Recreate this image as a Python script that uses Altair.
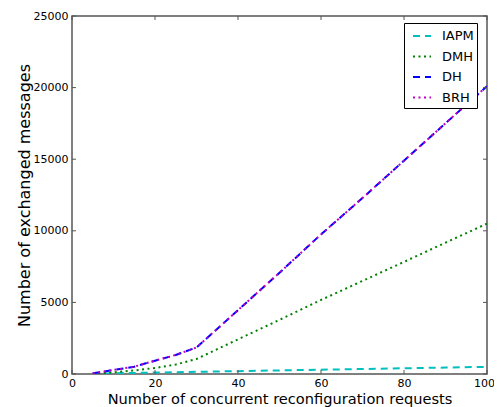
import altair as alt
import pandas as pd

series_names = ["IAPM", "DMH", "DH", "BRH"]
x_requests = [5, 10, 15, 20, 25, 30, 40, 50, 60, 70, 80, 90, 100]
iapm = [25, 50, 75, 100, 125, 150, 200, 250, 300, 350, 400, 450, 500]
dmh = [15, 110, 250, 420, 660, 1050, 2420, 3780, 5170, 6500, 7830, 9170, 10500]
dh = [50, 280, 510, 930, 1330, 1850, 4460, 7070, 9750, 12290, 14900, 17510, 20100]
brh = [50, 280, 510, 930, 1330, 1850, 4460, 7070, 9750, 12290, 14900, 17510, 20100]
colors = ["#00BFBF", "#008000", "#0000FF", "#BF00BF"]
dashes = [[7, 5], [2, 3.5], [7, 5], [2, 3.5]]
x_ticks = [0, 20, 40, 60, 80, 100]
y_ticks = [0, 5000, 10000, 15000, 20000, 25000]

rows = []
for name, vals in zip(series_names, [iapm, dmh, dh, brh]):
    for xv, yv in zip(x_requests, vals):
        rows.append({"series": name, "x": xv, "y": yv})
df = pd.DataFrame(rows)

W, H = 415, 358
FONT = "DejaVu Sans"
xs = alt.Scale(domain=[0, 100], nice=False, zero=False)
ys = alt.Scale(domain=[0, 25000], nice=False)

x_axis = alt.Axis(title="Number of concurrent reconfiguration requests", values=x_ticks,
                  ticks=False, domain=False, grid=False, labelFontSize=11, labelPadding=3,
                  labelFlush=False, labelOverlap=False,
                  labelOffset={"condition": {"test": "datum.value == 100", "value": -3}, "value": 0},
                  titleFontSize=14.6, titlePadding=3, labelColor="black", titleColor="black",
                  titleFontWeight="normal", labelFont=FONT, titleFont=FONT)
y_axis = alt.Axis(title="Number of exchanged messages", values=y_ticks, format="d",
                  ticks=False, domain=False, grid=False, labelFontSize=11, labelPadding=4,
                  labelFlush=False, labelOverlap=False,
                  titleFontSize=16, titlePadding=1, labelColor="black", titleColor="black",
                  titleFontWeight="normal", labelFont=FONT, titleFont=FONT)

legend = alt.Legend(title=None, orient="none", legendX=332, legendY=7,
                    strokeColor="black", fillColor="white", padding=3,
                    symbolType="stroke", symbolSize=324, symbolStrokeWidth=2,
                    labelFontSize=13, labelFont=FONT, labelColor="black",
                    labelOffset=10, symbolOffset=5, rowPadding=3.5, cornerRadius=0)

color = alt.Color("series:N", scale=alt.Scale(domain=series_names, range=colors), legend=legend)
dash = alt.StrokeDash("series:N", scale=alt.Scale(domain=series_names, range=dashes), legend=legend)

layers = []
for name in series_names:
    layers.append(
        alt.Chart(df).transform_filter(alt.datum.series == name)
        .mark_line(strokeWidth=2, clip=True)
        .encode(x=alt.X("x:Q", scale=xs, axis=x_axis),
                y=alt.Y("y:Q", scale=ys, axis=y_axis),
                color=color, strokeDash=dash)
    )

xt = pd.DataFrame({"x": x_ticks})
yt = pd.DataFrame({"y": y_ticks})
tick_color = "#555555"
layers.append(alt.Chart(xt).mark_rule(color=tick_color, strokeWidth=1).encode(
    x=alt.X("x:Q", scale=xs, axis=x_axis), y=alt.value(H - 4), y2=alt.value(H)))
layers.append(alt.Chart(xt).mark_rule(color=tick_color, strokeWidth=1).encode(
    x=alt.X("x:Q", scale=xs, axis=x_axis), y=alt.value(0), y2=alt.value(4)))
layers.append(alt.Chart(yt).mark_rule(color=tick_color, strokeWidth=1).encode(
    y=alt.Y("y:Q", scale=ys, axis=y_axis), x=alt.value(0), x2=alt.value(4)))
layers.append(alt.Chart(yt).mark_rule(color=tick_color, strokeWidth=1).encode(
    y=alt.Y("y:Q", scale=ys, axis=y_axis), x=alt.value(W - 4), x2=alt.value(W)))

chart = alt.layer(*layers).properties(
    width=W, height=H,
    autosize=alt.AutoSizeParams(type="none"),
    padding={"left": 64, "top": 8, "right": 7, "bottom": 33},
).configure_view(stroke="#555555", strokeWidth=1.5)

chart.save("out.html", embed_options={"renderer": "svg", "actions": False})
